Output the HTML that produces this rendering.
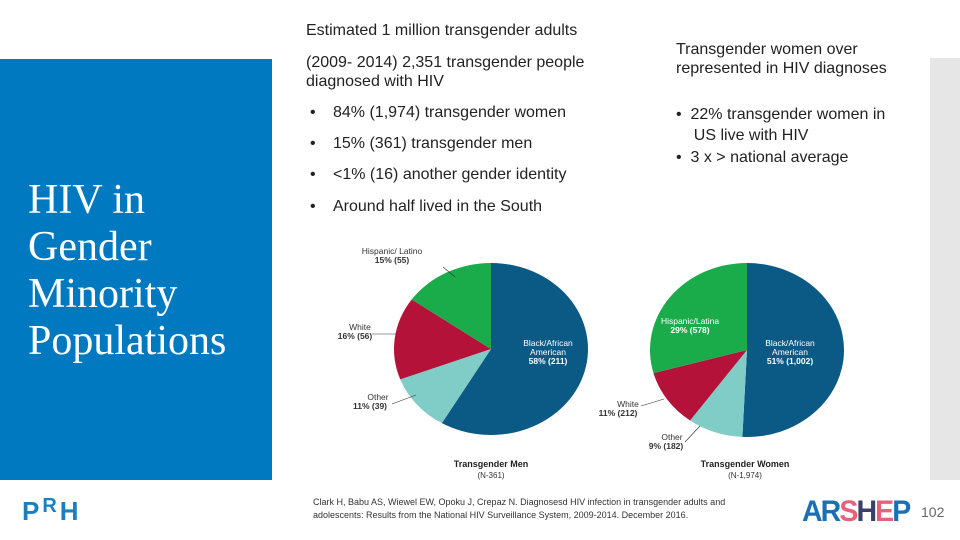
<!DOCTYPE html>
<html><head><meta charset="utf-8">
<style>
body{margin:0;width:960px;height:540px;background:#fff;position:relative;overflow:hidden;font-family:"Liberation Sans",sans-serif;color:#222}
.abs{position:absolute}
.t{font-size:16px;line-height:19px;color:#222}
.b{font-size:16px;color:#222}
.dot{position:absolute;left:-23px}
</style></head><body>
<div class="abs" style="left:0;top:59px;width:272px;height:421px;background:#0079c1"></div>
<div class="abs" style="left:28px;top:177px;font-family:'Liberation Serif',serif;font-size:42px;line-height:47px;color:#fff">HIV in<br>Gender<br>Minority<br>Populations</div>
<div class="abs" style="left:930px;top:58px;width:30px;height:422px;background:#e6e6e6"></div>

<div class="abs t" style="left:306px;top:21px">Estimated 1 million transgender adults</div>
<div class="abs t" style="left:306px;top:53px">(2009- 2014) 2,351 transgender people<br>diagnosed with HIV</div>
<div class="abs b" style="left:333px;top:104px"><span class="dot">•</span>84% (1,974) transgender women</div>
<div class="abs b" style="left:333px;top:135px"><span class="dot">•</span>15% (361) transgender men</div>
<div class="abs b" style="left:333px;top:166px"><span class="dot">•</span>&lt;1% (16) another gender identity</div>
<div class="abs b" style="left:333px;top:198px"><span class="dot">•</span>Around half lived in the South</div>

<div class="abs t" style="left:676px;top:40px">Transgender women over<br>represented in HIV diagnoses</div>
<div class="abs t" style="left:676px;top:104px;line-height:21px">•&nbsp;&nbsp;22% transgender women in<br>&nbsp;&nbsp;&nbsp;&nbsp;US live with HIV</div>
<div class="abs t" style="left:676px;top:148px">•&nbsp;&nbsp;3 x &gt; national average</div>

<svg class="abs" style="left:0;top:0" width="960" height="540" id="charts"></svg>

<div class="abs" style="left:313px;top:496px;font-size:9px;line-height:13px;color:#333">Clark H, Babu AS, Wiewel EW, Opoku J, Crepaz N. Diagnosesd HIV infection in transgender adults and<br>adolescents: Results from the National HIV Surveillance System, 2009-2014. December 2016.</div>
<div class="abs" style="left:22px;top:496px;font-size:26px;font-weight:bold;color:#1a7fc1;letter-spacing:3px">P<span style="position:relative;top:-8px;font-size:20px">R</span>H</div>
<div class="abs" style="left:802px;top:495px;font-size:30px;font-weight:bold;letter-spacing:-2px;transform:scaleX(0.95);transform-origin:left"><span style="color:#1a6fb5">AR</span><span style="color:#e8607a">S</span><span style="color:#3b3f6b">H</span><span style="color:#e8607a">E</span><span style="color:#1a6fb5">P</span></div>
<div class="abs" style="left:921px;top:504px;font-size:14px;color:#666">102</div>

<script>
const categories=["Black/African American","Other","White","Hispanic/Latino"];
const menValues=[211,39,56,55];
const womenValues=[1002,182,212,578];
const menLabels=["58% (211)","11% (39)","16% (56)","15% (55)"];
const womenLabels=["51% (1,002)","9% (182)","11% (212)","29% (578)"];
const colors=["#0b5a86","#7fcdc6","#b5123a","#1aab4b"];
const NS="http://www.w3.org/2000/svg";
const svg=document.getElementById('charts');
function mk(t,a){const e=document.createElementNS(NS,t);for(const k in a)e.setAttribute(k,a[k]);svg.appendChild(e);return e;}
function txt(x,y,s,size,weight,fill,anchor){const e=mk('text',{x:x,y:y,'font-size':size,'font-weight':weight,fill:fill,'text-anchor':anchor||'middle','font-family':'Liberation Sans, sans-serif'});e.textContent=s;return e;}
function pie(cx,cy,rx,ry,vals,name){
  const tot=vals.reduce((a,b)=>a+b,0);let a0=0;const mids=[];
  vals.forEach((v,i)=>{const a1=a0+v/tot*2*Math.PI;
    const p=(a)=>[cx+rx*Math.sin(a),cy-ry*Math.cos(a)];
    const s=p(a0),e=p(a1);const large=(a1-a0)>Math.PI?1:0;
    const path=mk('path',{d:`M${cx},${cy} L${s[0]},${s[1]} A${rx},${ry} 0 ${large} 1 ${e[0]},${e[1]} Z`,fill:colors[i]});
    
    
    mids.push((a0+a1)/2);a0=a1;});
  return mids;
}
pie(491,349,97,86,menValues,'men');
pie(747,350,97,87,womenValues,'women');
const fs=8.5;
txt(548,346,"Black/African",fs,'normal','#fff');txt(548,355,"American",fs,'normal','#fff');txt(548,364,menLabels[0],fs,'bold','#fff');
txt(392,254,"Hispanic/ Latino",fs,'normal','#333');txt(392,263,menLabels[3],fs,'bold','#333');
txt(360,330,"White",fs,'normal','#333');txt(355,339,menLabels[2],fs,'bold','#333');
txt(378,400,"Other",fs,'normal','#333');txt(370,409,menLabels[1],fs,'bold','#333');
mk('line',{x1:443,y1:267,x2:455,y2:277,stroke:'#333','stroke-width':0.6});
mk('line',{x1:372,y1:334,x2:396,y2:334,stroke:'#333','stroke-width':0.6});
mk('line',{x1:392,y1:404,x2:416,y2:395,stroke:'#333','stroke-width':0.6});
txt(491,467,"Transgender Men",9,'bold','#222');txt(491,478,"(N-361)",8,'normal','#333');
txt(690,324,"Hispanic/Latina",fs,'normal','#fff');txt(690,333,womenLabels[3],fs,'bold','#fff');
txt(790,346,"Black/African",fs,'normal','#fff');txt(790,355,"American",fs,'normal','#fff');txt(790,364,womenLabels[0],fs,'bold','#fff');
txt(628,407,"White",fs,'normal','#333');txt(618,416,womenLabels[2],fs,'bold','#333');
txt(672,440,"Other",fs,'normal','#333');txt(666,449,womenLabels[1],fs,'bold','#333');
mk('line',{x1:641,y1:406,x2:664,y2:399,stroke:'#333','stroke-width':0.6});
mk('line',{x1:685,y1:442,x2:700,y2:426,stroke:'#333','stroke-width':0.6});
txt(745,467,"Transgender Women",9,'bold','#222');txt(745,478,"(N-1,974)",8,'normal','#333');
</script>
</body></html>
